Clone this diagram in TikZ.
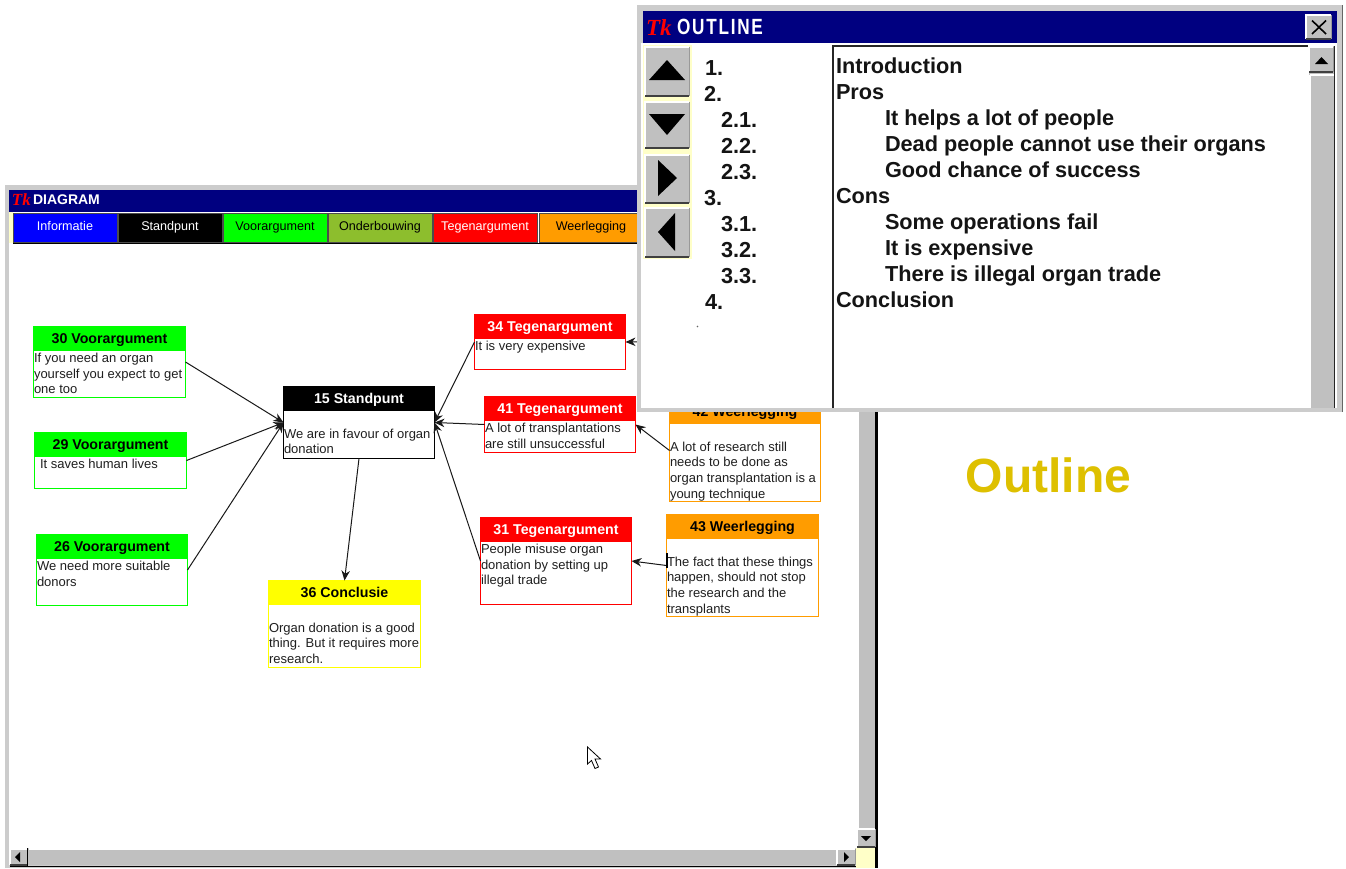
\documentclass[tikz,border=0pt]{standalone}
\usepackage{fontspec}
\setmainfont{Liberation Sans}
\newfontfamily\logofont{Liberation Serif}
\newfontfamily\outlinefont[FakeStretch=0.78,LetterSpace=8]{Liberation Sans}
\usetikzlibrary{arrows.meta}
\definecolor{navy}{HTML}{000080}
\definecolor{wingray}{HTML}{C0C0C0}
\definecolor{framegray}{HTML}{CCCCCC}
\definecolor{darkgray}{HTML}{555555}
\definecolor{vgreen}{HTML}{00FF00}
\definecolor{ogreen}{HTML}{8DBE2D}
\definecolor{tred}{HTML}{FF0000}
\definecolor{worange}{HTML}{FF9C00}
\definecolor{cyellow}{HTML}{FFFF00}
\definecolor{infoblue}{HTML}{0000FF}
\definecolor{pale}{HTML}{FFFFC8}
\definecolor{gold}{HTML}{DEC000}
\newcommand\firstline{\rule{0pt}{10pt}}
\newcommand\headstrut{\rule[-3pt]{0pt}{15pt}}
\newcommand\btnstrut{\rule[-3pt]{0pt}{12.5pt}}
\tikzset{
  x=1pt,y=-1pt,
  rectnode/.style={rectangle,inner sep=0pt,outer sep=0pt},
  boxbody/.style={rectnode,draw=#1,fill=white,line width=1.3pt},
  boxhead/.style={rectnode,fill=#1,anchor=north west},
  headtext/.style={font=\fontsize{14.2}{16}\selectfont\bfseries},
  bodytext/.style={rectnode,anchor=north west,align=left,text=black!88,font=\fontsize{13}{15.7}\selectfont},
  toolbtn/.style={rectnode,draw=black!70,line width=1pt,anchor=north west,minimum width=104pt,minimum height=29pt,font=\fontsize{12.6}{15}\selectfont},
  link/.style={draw=black!90,line width=1pt,-{Stealth[length=10pt,width=8.5pt]}},
  winframe/.style={draw=none,fill=framegray},
  outnum/.style={rectnode,anchor=base west,font=\fontsize{21.7}{26}\selectfont\bfseries,text=black!92},
  outtxt/.style={rectnode,anchor=base west,font=\fontsize{21.7}{26}\selectfont\bfseries,text=black!92},
  glyph/.style={fill=black,draw=none},
}
% name, x1, y1, x2, y2, box colour, title colour, title, body
\newcommand\argbox[9]{%
  \node[boxbody=#6,anchor=north west,minimum width={(#4-#2)*1pt},minimum height={(#5-#3)*1pt}] (n#1) at ({#2+.5},{#3+.5}) {};
  \node[boxhead=#6,minimum width={(#4-#2)*1pt},minimum height=24.5pt,text=#7,headtext] (h#1) at ({#2+.5},{#3+.5}) {\headstrut #8};
  \node[bodytext] (b#1) at ({#2+1},{#3+26.5}) {\firstline #9};
}
% button with bevel: x1,y1,x2,y2
\newcommand\bevel[4]{%
  \fill[wingray] (#1,#2) rectangle (#3,#4);
  \draw[white,line width=1.5pt] (#1,#4) -- (#1,#2) -- (#3,#2);
  \draw[black!75,line width=1.5pt] (#1,#4) -- (#3,#4);
  \draw[black!40,line width=1pt] (#3,#2) -- (#3,#4);
}
\begin{document}
\begin{tikzpicture}
\useasboundingbox (0,0) rectangle (1346,868);
\fill[white] (0,0) rectangle (1346,868);

%% DIAGRAM window
\fill[winframe] (5,185) rectangle (876,868);
\fill[white] (9,190) rectangle (857,848);
\fill[navy] (9,190) rectangle (870,212);
\node[rectnode,anchor=west,text=tred,font=\logofont\fontsize{17}{17}\selectfont\bfseries\itshape] (dlogo) at (12,200) {Tk};
\node[rectnode,anchor=west,text=white,font=\fontsize{14}{16}\selectfont\bfseries] (dtitle) at (33,199.5) {DIAGRAM};
\fill[pale] (9,212) rectangle (13,243);
\node[toolbtn,fill=infoblue,text=white] (t1) at (13,213) {\btnstrut Informatie};
\node[toolbtn,fill=black,text=white] (t2) at (118,213) {\btnstrut Standpunt};
\node[toolbtn,fill=vgreen,text=black] (t3) at (223,213) {\btnstrut Voorargument};
\node[toolbtn,fill=ogreen,text=black] (t4) at (328,213) {\btnstrut Onderbouwing};
\node[toolbtn,fill=tred,text=white] (t5) at (433,213) {\btnstrut Tegenargument};
\node[toolbtn,fill=worange,text=black] (t6) at (539,213) {\btnstrut Weerlegging};
\draw[black,line width=1pt] (13,243) -- (660,243);

%% boxes
\argbox{30}{33}{326}{185}{397}{vgreen}{black}{30 Voorargument}{If you need an organ\\yourself you expect to get\\one too}
\argbox{29}{34}{432}{186}{488}{vgreen}{black}{29 Voorargument}{\hspace{5pt}It saves human lives}
\argbox{26}{36}{534}{187}{605}{vgreen}{black}{26 Voorargument}{We need more suitable\\donors}
\argbox{15}{283}{386}{434}{458}{black}{white}{15 Standpunt}{\\We are in favour of organ\\donation}
\argbox{36}{268}{580}{420}{667}{cyellow}{black}{36 Conclusie}{\\Organ donation is a good\\thing. But it requires more\\research.}
\argbox{34}{474}{314}{625}{369}{tred}{white}{34 Tegenargument}{It is very expensive}
\argbox{41}{484}{396}{635}{452}{tred}{white}{41 Tegenargument}{A lot of transplantations\\are still unsuccessful}
\argbox{42}{669}{399}{820}{501}{worange}{black}{42 Weerlegging}{\\A lot of research still\\needs to be done as\\organ transplantation is a\\young technique}
\argbox{31}{480}{517}{631}{604}{tred}{white}{31 Tegenargument}{People misuse organ\\donation by setting up\\illegal trade}
\argbox{43}{666}{514}{818}{616}{worange}{black}{43 Weerlegging}{\\The fact that these things\\happen, should not stop\\the research and the\\transplants}

%% connectors
\coordinate (hidden) at (650,341.5);
\draw[link] (n30.east) -- (n15.west);
\draw[link] (n29.east) -- (n15.west);
\draw[link] (n26.east) -- (n15.west);
\draw[link] (n34.west) -- (n15.east);
\draw[link] (n41.west) -- (n15.east);
\draw[link] (n31.west) -- (n15.east);
\draw[link] (n15.south) -- (n36.north);
\draw[link] (n42.west) -- (n41.east);
\draw[link] (n43.west) -- (n31.east);
\draw[link] (hidden) -- (n34.east);
\draw[black,line width=1.6pt] (667,553) -- (667,568);

%% mouse cursor
\filldraw[fill=white,draw=black,line width=0.8pt,line join=miter]
  (587.5,747) -- (587.5,764) -- (591.5,760.5) -- (595,768.5) -- (598.5,767) -- (595,759) -- (600.5,759) -- cycle;

%% DIAGRAM scrollbars
\fill[wingray] (857,243) rectangle (875,829);
\draw[white,line width=1.5pt] (858,243) -- (858,828);
\draw[black,line width=2.5pt] (876.5,243) -- (876.5,868);
\draw[black!80,line width=1pt] (857,828) -- (875,828);
\bevel{857}{829}{875}{847}
\fill[glyph] (861,836) -- (871,836) -- (866,841) -- cycle;
\fill[pale] (856,848) rectangle (875,868);
\fill[wingray] (10,849) rectangle (836,865);
\draw[white,line width=1.5pt] (29,849) -- (836,849);
\bevel{837}{849}{855}{865}
\fill[glyph] (844,852) -- (849,857) -- (844,862) -- cycle;
\bevel{10}{849}{27}{865}
\fill[glyph] (20,852) -- (15,857) -- (20,862) -- cycle;
\draw[black,line width=1.5pt] (27.5,848) -- (27.5,866);
\draw[black,line width=1pt] (10,866) -- (856,866);

%% Outline caption
\node[rectnode,text=gold,font=\fontsize{48}{50}\selectfont\bfseries] (caption) at (1048.5,475) {Outline};

%% OUTLINE window
\fill[winframe] (637,5) rectangle (1342,412);
\draw[black!60,line width=1pt] (1342,5) -- (1342,412);
\fill[white] (641,43) rectangle (1337,408);
\fill[navy] (643,11) rectangle (1337,43);
\node[rectnode,anchor=west,text=tred,font=\logofont\fontsize{23}{23}\selectfont\bfseries\itshape] (ologo) at (646,27.5) {Tk};
\node[rectnode,anchor=west,text=white,font=\outlinefont\fontsize{22}{24}\selectfont\bfseries] (otitle) at (677,27) {OUTLINE};
% close button
\bevel{1306}{15}{1331}{39}
\draw[black,line width=1.6pt] (1312,20.5) -- (1326,34);
\draw[black,line width=1.6pt] (1326,20.5) -- (1312,34);
% nav buttons
\fill[pale] (643,45) rectangle (692,259);
\bevel{645}{47}{689}{96}
\fill[glyph] (649,80) -- (685,80) -- (667,60) -- cycle;
\bevel{645}{102}{689}{148}
\fill[glyph] (649,114) -- (685,114) -- (667,135) -- cycle;
\bevel{645}{155}{689}{203}
\fill[glyph] (658,160) -- (677,178) -- (658,196) -- cycle;
\bevel{645}{208}{689}{257}
\fill[glyph] (675,213) -- (658,232) -- (675,251) -- cycle;
% numbering
\node[outnum] (num1) at (705,75.5) {1.};
\node[outnum] (num2) at (704,101.5) {2.};
\node[outnum] (num21) at (721,127.5) {2.1.};
\node[outnum] (num22) at (721,153.5) {2.2.};
\node[outnum] (num23) at (721,179.5) {2.3.};
\node[outnum] (num3) at (704,205.5) {3.};
\node[outnum] (num31) at (721,231.5) {3.1.};
\node[outnum] (num32) at (721,257.5) {3.2.};
\node[outnum] (num33) at (721,283.5) {3.3.};
\node[outnum] (num4) at (705,309.5) {4.};
\fill[black!60] (697.5,326.5) circle (0.8);
% text panel
\draw[black!85,line width=2pt] (833,408) -- (833,46) -- (1308,46);
\node[outtxt] (o1) at (836,73.5) {Introduction};
\node[outtxt] (o2) at (836,99.5) {Pros};
\node[outtxt] (o21) at (885,125.5) {It helps a lot of people};
\node[outtxt] (o22) at (885,151.5) {Dead people cannot use their organs};
\node[outtxt] (o23) at (885,177.5) {Good chance of success};
\node[outtxt] (o3) at (836,203.5) {Cons};
\node[outtxt] (o31) at (885,229.5) {Some operations fail};
\node[outtxt] (o32) at (885,255.5) {It is expensive};
\node[outtxt] (o33) at (885,281.5) {There is illegal organ trade};
\node[outtxt] (o4) at (836,307.5) {Conclusion};
% scrollbar
\fill[wingray] (1309,46) rectangle (1334,408);
\draw[white,line width=1.5pt] (1310,75) -- (1310,408);
\draw[white,line width=1.5pt] (1310,75) -- (1334,75);
\bevel{1309}{47}{1333}{72}
\fill[glyph] (1315,64) -- (1328,64) -- (1321.5,57) -- cycle;
\draw[black!85,line width=1.2pt] (1334.5,46) -- (1334.5,408);
\end{tikzpicture}
\end{document}
